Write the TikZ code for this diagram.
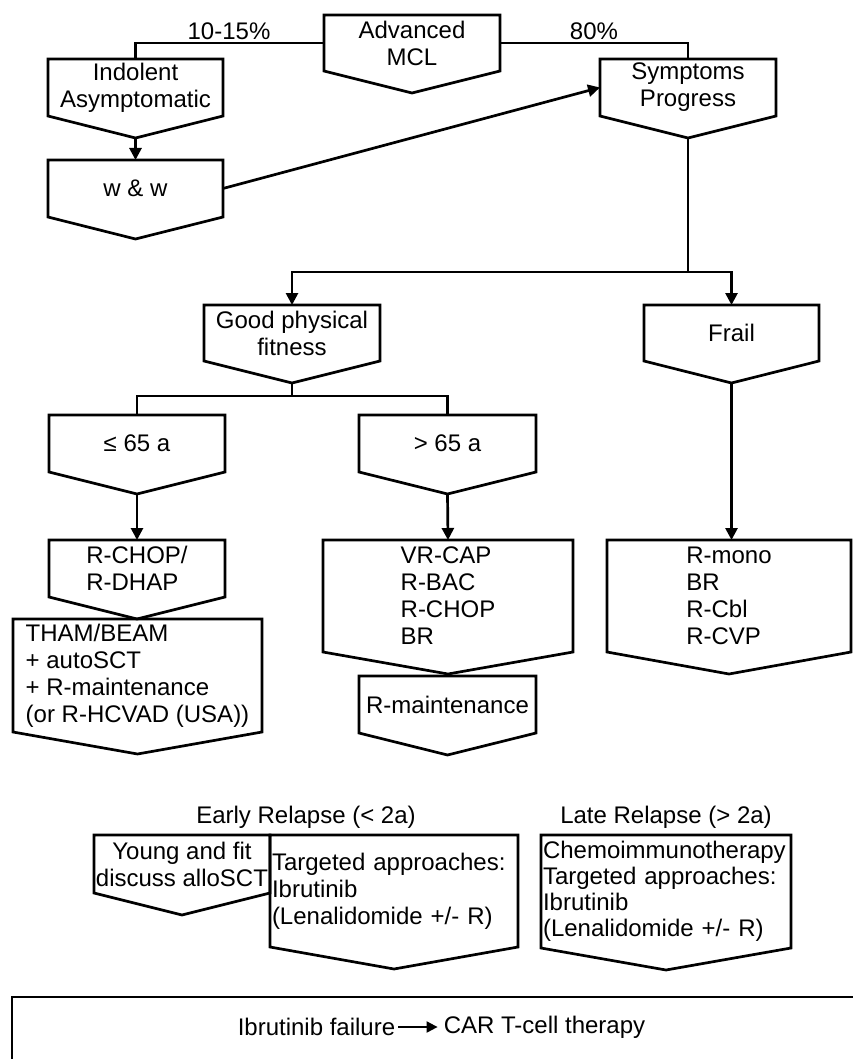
\documentclass[tikz,border=0pt]{standalone}
\usepackage{fontspec}
\setmainfont{Liberation Sans}
\usetikzlibrary{arrows.meta}
\begin{document}
\begin{tikzpicture}[x=1pt,y=-1pt,
  every node/.style={font=\fontsize{24pt}{27pt}\selectfont},
  line/.style={line width=2.7pt, line join=miter},
  arr/.style={line, -{Triangle[length=12pt,width=12pt]}},
  pent/.style={draw=none, inner sep=1pt, outer sep=0pt, align=center},
  lbl/.style={inner sep=1pt}
]
\useasboundingbox (0,0) rectangle (853,1059);
% nodes (rectangle part of the pentagon boxes)
\node[pent, minimum width=176pt, minimum height=56pt] (adv) at (412,43) {Advanced\\MCL};
\node[pent, minimum width=175pt, minimum height=57pt] (ind) at (135.5,87.5) {Indolent\\Asymptomatic};
\node[pent, minimum width=175pt, minimum height=57pt] (ww) at (135.5,188.5) {w \& w};
\node[pent, minimum width=176pt, minimum height=57pt] (sym) at (688,87.5) {Symptoms\\Progress};
\node[pent, minimum width=176pt, minimum height=56pt] (good) at (292,333) {Good physical\\fitness};
\node[pent, minimum width=175pt, minimum height=56pt] (frail) at (731.5,333) {Frail};
\node[pent, minimum width=176pt, minimum height=57pt] (le) at (137,443.5) {≤ 65 a};
\node[pent, minimum width=177pt, minimum height=57pt] (gt) at (447.5,443.5) {> 65 a};
\node[pent, align=left, minimum width=176pt, minimum height=57pt] (rchop) at (137,568.5) {R-CHOP/\\R-DHAP};
\node[pent, align=left, minimum width=250pt, minimum height=112pt] (vr) at (448,596) {VR-CAP\\R-BAC\\R-CHOP\\BR};
\node[pent, align=left, minimum width=244pt, minimum height=112pt] (rmono) at (729,596) {R-mono\\BR\\R-Cbl\\R-CVP};
\node[pent, align=left, minimum width=249pt, minimum height=113pt] (tham) at (137.5,675.5) {THAM/BEAM\\+ autoSCT\\+ R-maintenance\\(or R-HCVAD (USA))};
\node[pent, minimum width=177pt, minimum height=57pt] (rmaint) at (447.5,704.5) {R-maintenance};
\node[pent, minimum width=176pt, minimum height=58pt] (young) at (182,864) {Young and fit\\discuss alloSCT};
\node[pent, align=left, inner sep=2pt, text width=244pt, minimum width=248pt, minimum height=112pt] (targ) at (394,891) {Targeted approaches:\\Ibrutinib\\(Lenalidomide +/- R)};
\node[pent, align=left, inner sep=2pt, text width=246pt, minimum width=250pt, minimum height=113pt, font=\fontsize{24pt}{26pt}\selectfont] (late) at (666,891.5) {Chemoimmunotherapy\\Targeted approaches:\\Ibrutinib\\(Lenalidomide +/- R)};
% pentagon outlines
\foreach \n in {adv,ind,ww,sym,good,frail,le,gt,rchop,vr,rmono,tham,rmaint,young,targ,late}
  \draw[line] (\n.north west) -- (\n.north east) -- (\n.south east) -- ([yshift=-22pt]\n.south) -- (\n.south west) -- cycle;
% tips
\coordinate (indtip) at ([yshift=-22pt]ind.south);
\coordinate (symtip) at ([yshift=-22pt]sym.south);
\coordinate (goodtip) at ([yshift=-22pt]good.south);
\coordinate (frailtip) at ([yshift=-22pt]frail.south);
\coordinate (letip) at ([yshift=-22pt]le.south);
\coordinate (gttip) at ([yshift=-22pt]gt.south);
\coordinate (split) at (688,272);
\coordinate (gsplit) at (292,396);
% labels
\node[lbl] (p1) at (229,31) {10-15\%};
\node[lbl] (p2) at (594,31) {80\%};
\node[lbl] (early) at (306,817) {Early Relapse (< 2a)};
\node[lbl] (latet) at (666,817) {Late Relapse (> 2a)};
% connectors
\draw[line] (adv.west) -| (ind.north);
\draw[line] (adv.east) -| (sym.north);
\draw[arr] (indtip) -- (ww.north);
\draw[arr] (ww.east) -- (sym.west);
\draw[arr] (symtip) -- (split) -| (good.north);
\draw[arr] (split) -| (frail.north);
\draw[line] (goodtip) -- (gsplit) -| (le.north);
\draw[line] (gsplit) -| (gt.north);
\draw[arr] (letip) -- (rchop.north);
\draw[arr] (gttip) -- (vr.north);
\draw[arr] (frailtip) -- (frailtip |- rmono.north);
% bottom frame
\draw[line] (853,997) -- (12,997) -- (12,1059);
\node[inner sep=3pt] (ib) at (316.5,1027) {Ibrutinib failure};
\node[inner sep=3pt] (car) at (544.5,1027) {CAR T-cell therapy};
\draw[line width=2pt, -{Triangle[length=11pt,width=11pt]}, shorten >=3pt] (ib.east) -- (car.west);
\end{tikzpicture}
\end{document}
